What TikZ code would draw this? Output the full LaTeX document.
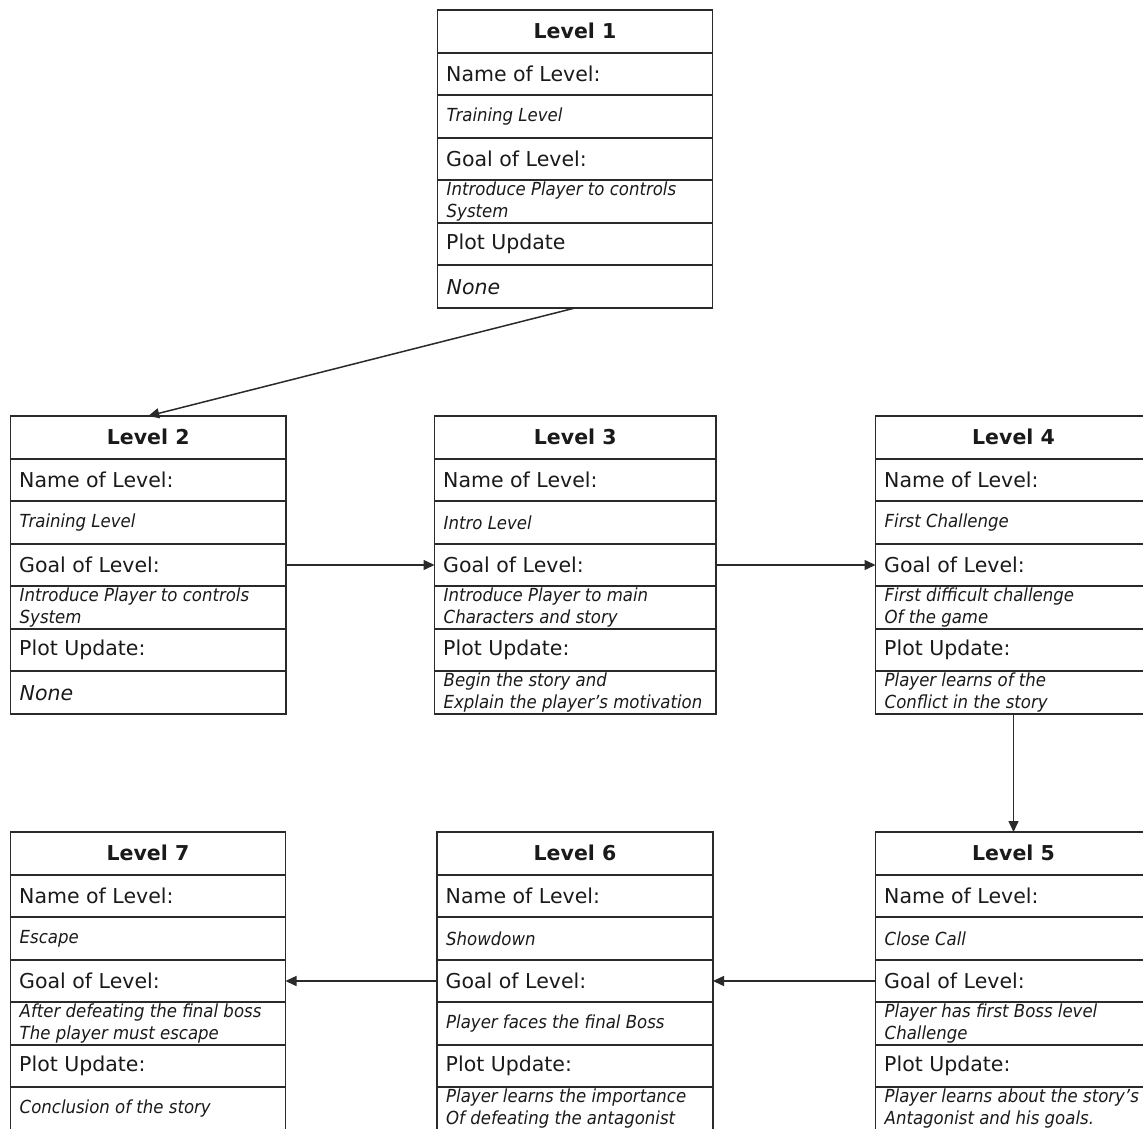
\documentclass[tikz,border=0pt]{standalone}
\usepackage{fontspec}
\setmainfont{DejaVu Sans}
\newfontfamily\smit[FakeStretch=0.92]{DejaVu Sans}
\usetikzlibrary{arrows.meta}
\definecolor{linec}{HTML}{2A2A2A}
\definecolor{txtc}{HTML}{1A1A1A}
\tikzset{
 rowbox/.style={draw=linec, line width=1.9pt, rectangle, outer sep=0pt, inner sep=0pt, minimum height=42.57pt, anchor=north west},
 lbl/.style={anchor=west, inner sep=0pt, font=\fontsize{20.5}{24}\selectfont, text=txtc},
 ttl/.style={inner sep=0pt, font=\fontsize{20.5}{24}\selectfont\bfseries, text=txtc},
 val/.style={anchor=west, inner sep=0pt, align=left, font=\smit\itshape\fontsize{18}{21.5}\selectfont, text=txtc},
 bigval/.style={anchor=west, inner sep=0pt, font=\itshape\fontsize{20.5}{24}\selectfont, text=txtc},
 link/.style={draw=linec, line width=1.5pt, -{Triangle[length=11pt,width=10pt]}},
}
% #1 name, #2 x, #3 y, #4 width, #5 title, #6 name value, #7 goal value, #8 plot label, #9 plot value
\newcommand{\levelbox}[9]{%
  \node[rowbox, minimum width=#4pt] (#1-1) at (#2,#3) {};
  \node[ttl] at (#1-1.center) {#5};
  \node[rowbox, minimum width=#4pt] (#1-2) at (#1-1.south west) {};
  \node[lbl] at ([xshift=8.5pt]#1-2.west) {Name of Level:};
  \node[rowbox, minimum width=#4pt] (#1-3) at (#1-2.south west) {};
  \node[val] at ([xshift=9pt]#1-3.west) {#6};
  \node[rowbox, minimum width=#4pt] (#1-4) at (#1-3.south west) {};
  \node[lbl] at ([xshift=8.5pt]#1-4.west) {Goal of Level:};
  \node[rowbox, minimum width=#4pt] (#1-5) at (#1-4.south west) {};
  \node[val] at ([xshift=9pt]#1-5.west) {#7};
  \node[rowbox, minimum width=#4pt] (#1-6) at (#1-5.south west) {};
  \node[lbl] at ([xshift=8.5pt]#1-6.west) {#8};
  \node[rowbox, minimum width=#4pt] (#1-7) at (#1-6.south west) {};
  #9%
}
\begin{document}
\begin{tikzpicture}[x=1pt,y=-1pt]
\clip (0,0) rectangle (1143,1129);
\fill[white] (0,0) rectangle (1143,1129);

\levelbox{L1}{437.5}{10}{275}{Level 1}{Training Level}{Introduce Player to controls\\System}{Plot Update}%
  {\node[bigval] at ([xshift=9pt]L1-7.west) {None};}
\levelbox{L2}{10.5}{416}{275.5}{Level 2}{Training Level}{Introduce Player to controls\\System}{Plot Update:}%
  {\node[bigval] at ([xshift=9pt]L2-7.west) {None};}
\levelbox{L3}{434.5}{416}{281.5}{Level 3}{Intro Level}{Introduce Player to main\\Characters and story}{Plot Update:}%
  {\node[val] at ([xshift=9pt]L3-7.west) {Begin the story and\\Explain the player’s motivation};}
\levelbox{L4}{875.5}{416}{276}{Level 4}{First Challenge}{First difficult challenge\\Of the game}{Plot Update:}%
  {\node[val] at ([xshift=9pt]L4-7.west) {Player learns of the\\Conflict in the story};}
\levelbox{L5}{875.5}{832}{276}{Level 5}{Close Call}{Player has first Boss level\\Challenge}{Plot Update:}%
  {\node[val] at ([xshift=9pt]L5-7.west) {Player learns about the story’s\\Antagonist and his goals.};}
\levelbox{L6}{437}{832}{276}{Level 6}{Showdown}{Player faces the final Boss}{Plot Update:}%
  {\node[val] at ([xshift=9pt]L6-7.west) {Player learns the importance\\Of defeating the antagonist};}
\levelbox{L7}{10.5}{832}{275}{Level 7}{Escape}{After defeating the final boss\\The player must escape}{Plot Update:}%
  {\node[val] at ([xshift=9pt]L7-7.west) {Conclusion of the story};}

\draw[link] (L1-7.south) -- (L2-1.north);
\draw[link] (L2-4.east) -- (L3-4.west);
\draw[link] (L3-4.east) -- (L4-4.west);
\draw[link] (L4-7.south) -- (L5-1.north);
\draw[link] (L5-4.west) -- (L6-4.east);
\draw[link] (L6-4.west) -- (L7-4.east);
\end{tikzpicture}
\end{document}
